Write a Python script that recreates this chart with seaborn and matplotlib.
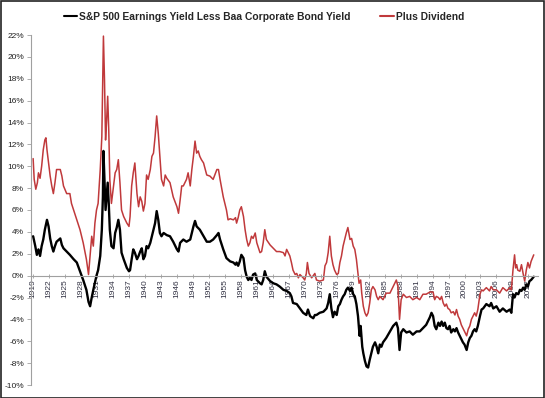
import numpy as np
import pandas as pd
import matplotlib
matplotlib.use("Agg")
import matplotlib.pyplot as plt
import seaborn as sns
from matplotlib.patches import Rectangle
from matplotlib.lines import Line2D

# --- data (percent) ---
black_years = [1919.0, 1919.4, 1919.7, 1920.0, 1920.3, 1920.6, 1920.9, 1921.2, 1921.6, 1921.9,
               1922.2, 1922.5, 1922.8, 1923.1, 1923.4, 1924.1, 1924.4, 1924.7, 1925.3, 1925.9,
               1926.6, 1927.2, 1927.8, 1928.4, 1929.0, 1929.4, 1929.7, 1930.0, 1930.3, 1930.9,
               1931.2, 1931.6, 1931.9, 1932.1, 1932.2, 1932.4, 1932.6, 1932.8, 1933.0, 1933.2,
               1933.4, 1933.7, 1934.1, 1934.4, 1934.7, 1935.0, 1935.3, 1935.6, 1936.0, 1936.6,
               1937.0, 1937.2, 1937.5, 1937.8, 1938.1, 1938.5, 1938.8, 1939.1, 1939.4, 1939.7,
               1940.0, 1940.3, 1940.6, 1941.0, 1941.3, 1941.6, 1941.9, 1942.2, 1942.5, 1942.8,
               1943.1, 1943.5, 1944.1, 1944.7, 1945.3, 1946.0, 1946.3, 1946.6, 1947.2, 1947.8,
               1948.5, 1948.8, 1949.1, 1949.4, 1949.7, 1950.3, 1951.0, 1951.6, 1952.2, 1952.8,
               1953.5, 1953.8, 1954.1, 1954.7, 1955.3, 1956.0, 1956.6, 1957.0, 1957.2, 1957.5,
               1957.8, 1958.1, 1958.5, 1958.8, 1959.1, 1959.4, 1959.7, 1960.0, 1960.3, 1960.7,
               1961.0, 1961.6, 1961.9, 1962.2, 1962.5, 1962.8, 1963.5, 1964.1, 1964.7, 1965.3,
               1966.0, 1966.6, 1967.2, 1967.5, 1967.8, 1968.5, 1969.1, 1969.7, 1970.3, 1970.6,
               1971.0, 1971.6, 1971.9, 1972.2, 1972.8, 1973.5, 1974.1, 1974.4, 1974.7, 1975.0,
               1975.3, 1975.6, 1976.0, 1976.3, 1976.6, 1976.9, 1977.2, 1977.5, 1977.8, 1978.1,
               1978.5, 1978.8, 1979.1, 1979.4, 1979.7, 1980.0, 1980.3, 1980.5, 1980.8, 1981.0,
               1981.3, 1981.6, 1981.9, 1982.2, 1982.5, 1982.8, 1983.2, 1983.5, 1983.8, 1984.1,
               1984.4, 1984.7, 1985.3, 1986.0, 1986.6, 1987.2, 1987.5, 1987.8, 1988.1, 1988.5,
               1989.1, 1989.7, 1990.3, 1991.0, 1991.6, 1992.2, 1992.8, 1993.5, 1993.8, 1994.1,
               1994.4, 1994.7, 1995.1, 1995.4, 1995.7, 1996.0, 1996.3, 1996.6, 1996.9, 1997.2,
               1997.5, 1997.9, 1998.2, 1998.5, 1998.8, 1999.1, 1999.4, 1999.7, 2000.0, 2000.4,
               2000.7, 2001.0, 2001.3, 2001.6, 2001.9, 2002.2, 2002.5, 2002.9, 2003.2, 2003.5,
               2004.1, 2004.7, 2005.0, 2005.4, 2006.0, 2006.6, 2007.2, 2007.9, 2008.5, 2008.8,
               2009.1, 2009.4, 2009.7, 2010.1, 2010.4, 2010.7, 2011.0, 2011.3, 2011.6, 2011.9,
               2012.2, 2012.5, 2013.0]
black_vals = [3.6, 2.7, 1.9, 2.4, 1.8, 2.7, 3.3, 4.2, 5.1, 4.5,
              3.4, 2.7, 2.2, 2.7, 3.1, 3.4, 2.8, 2.5, 2.2, 1.9,
              1.5, 1.2, 0.4, -0.4, -1.3, -2.4, -2.8, -2.0, -1.3, 0.0,
              0.5, 1.8, 4.2, 7.2, 11.4, 8.8, 6.0, 7.2, 8.5, 6.6,
              4.2, 2.7, 2.5, 3.9, 4.4, 5.1, 4.2, 2.1, 1.5, 0.7,
              0.4, 0.5, 1.5, 2.4, 2.1, 1.5, 1.8, 2.2, 2.5, 1.5,
              1.8, 2.7, 2.5, 3.0, 3.6, 4.2, 4.8, 5.9, 5.1, 3.9,
              3.6, 3.9, 3.7, 3.6, 3.1, 2.4, 2.2, 3.0, 3.3, 3.1,
              3.3, 3.9, 4.5, 5.0, 4.5, 4.2, 3.6, 3.1, 3.1, 3.3,
              3.7, 3.9, 3.3, 2.4, 1.6, 1.3, 1.2, 1.0, 1.2, 0.9,
              1.3, 1.9, 1.6, 0.5, -0.1, -0.4, -0.2, -0.4, 0.1, 0.2,
              -0.4, -0.7, -0.8, -0.4, 0.4, -0.1, -0.5, -0.7, -0.8, -1.0,
              -1.3, -1.4, -1.6, -1.9, -2.5, -2.6, -3.0, -3.4, -3.6, -3.1,
              -3.7, -3.9, -3.6, -3.6, -3.4, -3.3, -3.0, -2.5, -1.7, -3.0,
              -3.8, -3.3, -3.6, -2.8, -2.6, -2.2, -1.9, -1.7, -1.3, -1.1,
              -1.4, -1.1, -1.7, -1.9, -2.6, -3.7, -5.5, -4.6, -6.5, -7.1,
              -7.8, -8.3, -8.4, -7.7, -7.1, -6.5, -6.1, -6.5, -7.1, -6.3,
              -6.5, -6.1, -5.7, -5.1, -4.6, -4.3, -4.8, -6.8, -5.2, -4.9,
              -5.2, -5.1, -5.4, -5.1, -5.1, -4.8, -4.5, -3.8, -3.4, -3.7,
              -4.6, -4.9, -4.3, -4.6, -4.2, -4.6, -4.3, -4.8, -4.9, -4.6,
              -5.2, -4.9, -5.1, -4.8, -5.2, -5.5, -5.8, -6.1, -6.3, -6.8,
              -6.1, -5.7, -5.5, -5.1, -4.9, -5.1, -4.6, -3.7, -3.1, -3.0,
              -2.6, -2.8, -2.5, -3.0, -2.8, -3.3, -3.0, -3.3, -3.1, -3.4,
              -1.7, -2.0, -1.6, -1.7, -1.3, -1.4, -1.1, -1.3, -0.8, -1.0,
              -0.5, -0.4, -0.1]

red_years = [1919.0, 1919.2, 1919.5, 1919.8, 1920.0, 1920.3, 1920.6, 1920.9, 1921.2, 1921.4,
             1921.6, 1921.9, 1922.2, 1922.5, 1922.8, 1923.1, 1923.4, 1924.1, 1924.4, 1924.7,
             1925.3, 1925.9, 1926.2, 1926.6, 1927.2, 1927.8, 1928.4, 1929.0, 1929.4, 1929.7,
             1930.0, 1930.3, 1930.6, 1930.9, 1931.2, 1931.6, 1931.9, 1932.2, 1932.4, 1932.6,
             1932.8, 1933.0, 1933.2, 1933.4, 1933.7, 1934.1, 1934.4, 1934.7, 1935.0, 1935.3,
             1935.6, 1936.0, 1936.6, 1937.0, 1937.2, 1937.5, 1937.8, 1938.1, 1938.5, 1938.8,
             1939.1, 1939.4, 1939.7, 1940.0, 1940.3, 1940.6, 1941.0, 1941.3, 1941.6, 1941.9,
             1942.2, 1942.5, 1942.8, 1943.1, 1943.5, 1943.8, 1944.1, 1944.7, 1945.3, 1946.0,
             1946.3, 1946.6, 1946.9, 1947.2, 1947.8, 1948.1, 1948.5, 1948.8, 1949.1, 1949.4,
             1949.7, 1950.0, 1950.3, 1950.6, 1951.0, 1951.6, 1952.2, 1952.8, 1953.5, 1953.8,
             1954.1, 1954.7, 1955.3, 1955.6, 1956.0, 1956.6, 1957.0, 1957.2, 1957.5, 1957.8,
             1958.1, 1958.5, 1958.8, 1959.1, 1959.4, 1959.7, 1960.0, 1960.3, 1960.7, 1961.0,
             1961.6, 1961.9, 1962.2, 1962.5, 1962.8, 1963.5, 1964.1, 1964.7, 1965.3, 1966.0,
             1966.3, 1966.6, 1966.9, 1967.2, 1967.5, 1967.8, 1968.2, 1968.5, 1968.8, 1969.1,
             1969.7, 1970.0, 1970.3, 1970.5, 1970.8, 1971.3, 1971.9, 1972.2, 1972.8, 1973.5,
             1973.8, 1974.1, 1974.4, 1974.7, 1975.0, 1975.3, 1975.6, 1976.0, 1976.3, 1976.6,
             1976.9, 1977.2, 1977.5, 1977.8, 1978.1, 1978.5, 1978.8, 1979.1, 1979.4, 1979.7,
             1980.0, 1980.2, 1980.5, 1980.7, 1981.0, 1981.3, 1981.6, 1981.9, 1982.2, 1982.5,
             1982.8, 1983.2, 1983.5, 1983.8, 1984.1, 1984.7, 1985.3, 1986.0, 1986.6, 1987.2,
             1987.5, 1987.8, 1988.1, 1988.5, 1989.1, 1989.7, 1990.3, 1991.0, 1991.6, 1992.2,
             1992.8, 1993.5, 1994.1, 1994.4, 1994.7, 1995.1, 1995.4, 1995.7, 1996.0, 1996.3,
             1996.6, 1996.9, 1997.2, 1997.5, 1997.9, 1998.2, 1998.5, 1998.8, 1999.1, 1999.4,
             1999.7, 2000.0, 2000.4, 2000.7, 2001.0, 2001.3, 2001.6, 2001.9, 2002.2, 2002.5,
             2002.9, 2003.2, 2003.5, 2004.1, 2004.7, 2005.0, 2005.4, 2006.0, 2006.6, 2007.2,
             2007.9, 2008.5, 2008.8, 2009.1, 2009.4, 2009.6, 2009.8, 2010.0, 2010.4, 2010.7,
             2011.0, 2011.3, 2011.6, 2011.9, 2012.2, 2012.5, 2013.0]
red_vals = [10.7, 8.8, 7.9, 8.5, 9.4, 8.9, 10.0, 11.5, 12.4, 12.6,
            11.5, 10.3, 9.1, 8.2, 7.5, 8.5, 9.7, 9.7, 9.1, 8.2,
            7.5, 7.5, 6.6, 6.0, 5.1, 4.2, 3.0, 1.5, 0.1, 1.8,
            3.6, 2.7, 4.8, 6.0, 6.6, 9.7, 12.7, 21.9, 17.9, 12.4,
            14.2, 16.4, 13.3, 8.8, 6.6, 8.2, 9.4, 9.7, 10.6, 8.5,
            6.0, 5.4, 4.8, 4.5, 5.4, 8.2, 9.4, 10.3, 7.5, 6.3,
            7.2, 6.8, 5.9, 6.6, 9.2, 8.8, 9.7, 10.9, 11.2, 12.7,
            14.6, 13.0, 10.9, 8.8, 8.2, 9.2, 8.9, 8.5, 7.2, 6.3,
            5.7, 6.9, 8.2, 8.2, 8.8, 9.4, 8.2, 9.7, 10.9, 12.3,
            11.2, 11.4, 10.9, 10.6, 10.3, 9.2, 9.1, 8.8, 9.7, 9.7,
            8.8, 7.2, 6.0, 5.1, 5.2, 5.1, 5.3, 4.8, 5.3, 6.0,
            6.3, 5.4, 4.2, 3.3, 2.7, 3.0, 3.6, 3.4, 3.9, 3.0,
            2.1, 2.2, 3.0, 4.2, 3.3, 2.8, 2.5, 2.2, 2.2, 2.1,
            1.8, 2.4, 2.1, 1.8, 1.2, 0.5, 0.1, 0.2, -0.2, 0.1,
            -0.2, -0.4, 0.2, 1.2, 0.2, -0.2, 0.2, -0.4, -0.5, -0.4,
            0.9, 1.2, 2.1, 3.6, 1.8, 1.0, 0.5, 0.1, 0.2, 1.2,
            1.8, 2.7, 3.3, 3.9, 4.4, 3.3, 3.4, 2.7, 2.4, 1.5,
            0.2, -0.7, -0.4, -1.6, -2.8, -3.4, -3.7, -3.4, -2.5, -1.3,
            -1.0, -1.3, -1.9, -2.2, -1.9, -2.2, -1.6, -1.6, -1.0, -0.4,
            -1.0, -4.0, -2.2, -1.7, -2.0, -1.9, -2.2, -2.0, -2.2, -1.7,
            -1.7, -1.5, -1.5, -2.2, -1.9, -2.0, -2.2, -1.9, -2.5, -2.8,
            -2.6, -3.0, -3.1, -3.4, -3.3, -3.6, -3.1, -3.7, -4.0, -4.5,
            -4.8, -5.1, -5.5, -4.9, -4.6, -4.0, -3.7, -3.4, -3.7, -3.1,
            -1.7, -1.3, -1.4, -1.1, -1.4, -1.0, -1.3, -1.3, -1.6, -1.1,
            -1.4, -1.1, -1.3, 0.5, 1.9, 0.7, 1.0, 0.5, 0.4, 1.0,
            0.2, -0.5, 0.5, 1.2, 0.7, 1.3, 1.9]

year_ticks = list(range(1919, 2013, 3))
pct_ticks = list(range(-10, 23, 2))

black_label = "S&P 500 Earnings Yield Less Baa Corporate Bond Yield"
red_label = "Plus Dividend"

black_df = pd.DataFrame({"year": black_years, "value": black_vals})
red_df = pd.DataFrame({"year": red_years, "value": red_vals})

# --- style ---
sns.set_style("white")
plt.rcParams["font.family"] = ["Liberation Sans", "DejaVu Sans"]

fig = plt.figure(figsize=(5.45, 3.98), dpi=100)
ax = fig.add_axes([31 / 545, 13 / 398, 507 / 545, 350 / 398])

red_col = "#c0393b"
sns.lineplot(data=red_df, x="year", y="value", ax=ax, color=red_col, linewidth=1.1)
sns.lineplot(data=black_df, x="year", y="value", ax=ax, color="black", linewidth=1.7)

ax.set_xlim(1918.6, 2013.8)
ax.set_ylim(-10, 22)
ax.set_xlabel("")
ax.set_ylabel("")

# axis at zero, grey lines like the spreadsheet chart
for side in ["top", "right"]:
    ax.spines[side].set_visible(False)
ax.spines["bottom"].set_position(("data", 0))
ax.spines["bottom"].set_color("#a0a0a0")
ax.spines["bottom"].set_linewidth(0.8)
ax.spines["bottom"].set_linestyle((0, (2, 1)))
ax.spines["left"].set_color("#a0a0a0")
ax.spines["left"].set_linewidth(0.8)
ax.spines["left"].set_position(("data", 1918.6))

ax.set_yticks(pct_ticks)
ax.set_yticklabels([f"{p}%" for p in pct_ticks], fontsize=6, color="#222222")
ax.set_xticks(year_ticks)
ax.set_xticklabels([str(y) for y in year_ticks], rotation=90, fontsize=6, color="#333344")
ax.tick_params(axis="y", length=3, width=0.6, color="#a0a0a0", pad=2, left=True)
ax.tick_params(axis="x", length=3, width=0.6, color="#a0a0a0", pad=1, bottom=True,
               direction="inout")

# legend across the top
handles = [Line2D([0], [0], color="black", linewidth=1.5),
           Line2D([0], [0], color=red_col, linewidth=1.5)]
fig.legend(handles, [black_label, red_label], loc="center", ncol=2,
           bbox_to_anchor=(0.484, 0.958), frameon=False, handlelength=1.35,
           handletextpad=0.15, columnspacing=2.9,
           prop={"weight": "bold", "size": 7.4})

# thin frame around the whole picture
fig.patches.append(Rectangle((0.001, 0.001), 0.997, 0.996, transform=fig.transFigure,
                             fill=False, edgecolor="#222222", linewidth=1.2))

fig.savefig("out.png", dpi=100)
